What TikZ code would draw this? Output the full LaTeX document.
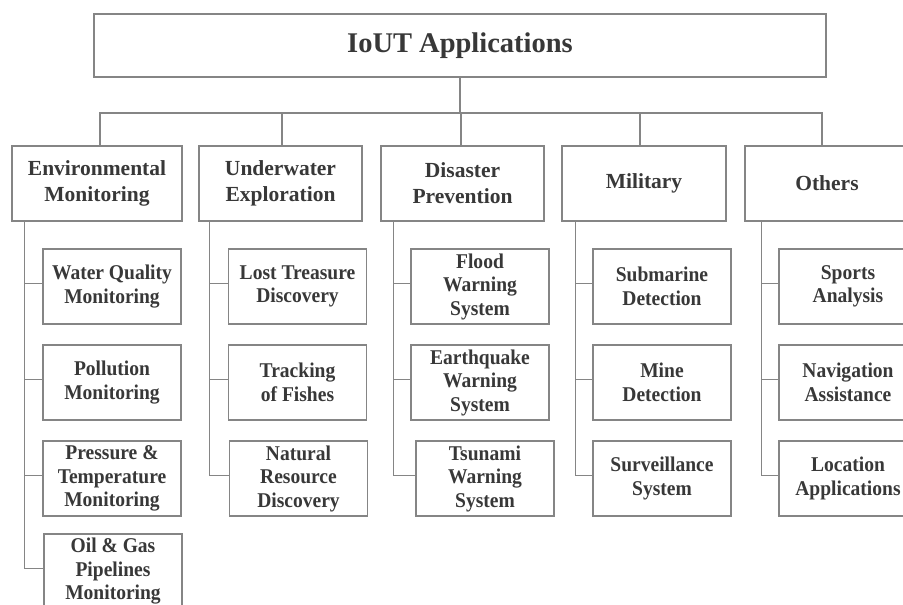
\documentclass[tikz,border=0pt]{standalone}
\usepackage{fontspec}
\setmainfont{Liberation Serif}
\newfontfamily\subserif[FakeStretch=0.93]{Liberation Serif}
\usepackage{xcolor}
\usepackage{tikz}
\usetikzlibrary{positioning}
\definecolor{rule}{HTML}{858585}
\definecolor{txt}{HTML}{383838}
\newcommand{\topfont}{\fontsize{28.5}{32}\selectfont\bfseries}
\newcommand{\catfont}{\fontsize{21.5}{26}\selectfont\bfseries}
\newcommand{\subfont}{\subserif\fontsize{21}{23.5}\selectfont\bfseries}

\begin{document}
\begin{tikzpicture}[x=1pt, y=-1pt, line width=1.5pt,
  root/.style={draw=rule, fill=white, text=txt, font=\topfont, minimum width=732pt, minimum height=63pt, inner sep=0pt},
  cat/.style={draw=rule, fill=white, text=txt, font=\catfont, align=center, minimum height=75pt, inner sep=0pt},
  leaf/.style={draw=rule, fill=white, text=txt, font=\subfont, align=center, minimum width=138pt, minimum height=75pt, inner sep=0pt},
  link/.style={draw=rule}]
\useasboundingbox (0,0) rectangle (903,605);
\clip (0,0) rectangle (903,605);
% root and categories
\node[root] (iout) at (460,45.5) {IoUT Applications};
\node[cat, minimum width=170pt] (env) at (97,183.5) {Environmental\\Monitoring};
\node[cat, minimum width=163pt] (uwe) at (280.5,183.5) {Underwater\\Exploration};
\node[cat, minimum width=163pt] (dis) at (462.5,183.5) {Disaster\\Prevention};
\node[cat, minimum width=164pt] (mil) at (644,183.5) {Military};
\node[cat, minimum width=164pt] (oth) at (827,183.5) {Others};
% environmental monitoring
\node[leaf] (wq) at (112,286.5) {Water Quality\\Monitoring};
\node[leaf] (pm) at (112,382.5) {Pollution\\Monitoring};
\node[leaf] (pt) at (112,478.5) {Pressure \&\\Temperature\\Monitoring};
\node[leaf] (og) at (113,571.5) {Oil \& Gas\\Pipelines\\Monitoring};
% underwater exploration
\node[leaf] (lt) at (297.5,286.5) {Lost Treasure\\Discovery};
\node[leaf] (tf) at (297.5,382.5) {Tracking\\of Fishes};
\node[leaf] (nr) at (298.5,478.5) {Natural\\Resource\\Discovery};
% disaster prevention
\node[leaf] (fw) at (480,286.5) {Flood\\Warning\\System};
\node[leaf] (ew) at (480,382.5) {Earthquake\\Warning\\System};
\node[leaf] (tw) at (485,478.5) {Tsunami\\Warning\\System};
% military
\node[leaf] (sd) at (662,286.5) {Submarine\\Detection};
\node[leaf] (md) at (662,382.5) {Mine\\Detection};
\node[leaf] (ss) at (662,478.5) {Surveillance\\System};
% others
\node[leaf] (sa) at (848,286.5) {Sports\\Analysis};
\node[leaf] (na) at (848,382.5) {Navigation\\Assistance};
\node[leaf] (la) at (848,478.5) {Location\\Applications};
% bus
\draw[link] (iout.south) -- ++(0,35) coordinate (bus);
\foreach \n/\dx in {env/3,uwe/1.5,dis/-1.5,mil/-4,oth/-5}
  \draw[link] ([xshift=\dx pt]\n.north) |- (bus);
% trunks
\foreach \c in {wq,pm,pt,og} \draw[link] ([xshift=13pt]env.south west) |- ([yshift=3pt]\c.west);
\foreach \c in {lt,tf,nr} \draw[link] ([xshift=11pt]uwe.south west) |- ([yshift=3pt]\c.west);
\foreach \c in {fw,ew,tw} \draw[link] ([xshift=13pt]dis.south west) |- ([yshift=3pt]\c.west);
\foreach \c in {sd,md,ss} \draw[link] ([xshift=14pt]mil.south west) |- ([yshift=3pt]\c.west);
\foreach \c in {sa,na,la} \draw[link] ([xshift=17pt]oth.south west) |- ([yshift=3pt]\c.west);
\end{tikzpicture}
\end{document}
